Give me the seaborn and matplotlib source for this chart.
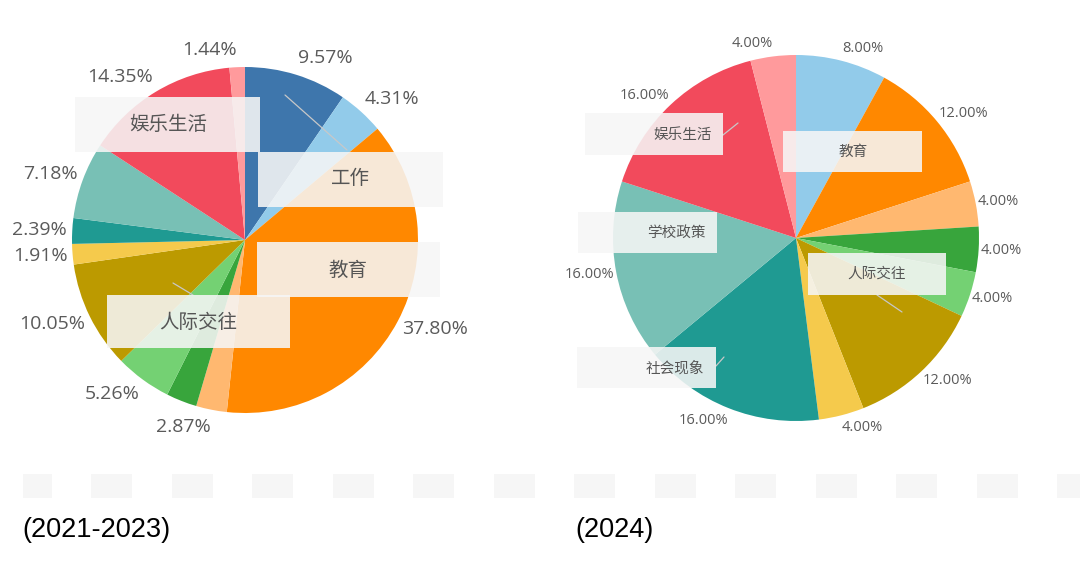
import numpy as np
import matplotlib
matplotlib.use("Agg")
import matplotlib.pyplot as plt
import seaborn as sns
from matplotlib.patches import Rectangle

# ---------------- data ----------------
left_values = [9.57, 4.31, 37.80, 2.87, 2.87, 5.26, 10.05, 1.91, 2.39, 7.18, 14.35, 1.44]
left_colors = ["#3E76AC", "#92CBEA", "#FF8800", "#FFB870", "#38A53C", "#74D173",
               "#BC9A00", "#F5CA4C", "#1F9A92", "#78C0B5", "#F24A5C", "#FF9A9C"]
left_show = [True, True, True, True, False, True, True, True, True, True, True, True]

right_values = [8.00, 12.00, 4.00, 4.00, 4.00, 12.00, 4.00, 16.00, 16.00, 16.00, 4.00]
right_colors = ["#92CBEA", "#FF8800", "#FFB870", "#38A53C", "#74D173",
                "#BC9A00", "#F5CA4C", "#1F9A92", "#78C0B5", "#F24A5C", "#FF9A9C"]

left_tags = ["娱乐生活", "工作", "教育", "人际交往"]
right_tags = ["娱乐生活", "教育", "学校政策", "人际交往", "社会现象"]
captions = ["(2021-2023)", "(2024)"]

# ---------------- style ----------------
sns.set_theme(style="white")
plt.rcParams["font.family"] = ["Noto Sans CJK SC", "DejaVu Sans"]

W, H = 1080, 567
fig = plt.figure(figsize=(W / 100, H / 100), dpi=100)
ax = fig.add_axes([0, 0, 1, 1])


def Y(py):
    return H - py


def draw_pie(values, colors, cx, cy, r, fx, fy, fsize, show=None):
    pal = sns.color_palette(colors)
    ax.pie(values, colors=pal, startangle=90, counterclock=False,
           center=(cx, Y(cy)), radius=r, wedgeprops=dict(linewidth=0))
    total = float(sum(values))
    cum = np.cumsum([0] + list(values))
    for i, v in enumerate(values):
        if show is not None and not show[i]:
            continue
        frac = (cum[i] + v / 2) / total
        th = np.deg2rad(90 - 360 * frac)
        x = cx + fx * r * np.cos(th)
        y = Y(cy) + fy * r * np.sin(th)
        ha = "left" if np.cos(th) >= 0 else "right"
        ax.text(x, y, f"{v:.2f}%", ha=ha, va="center", fontsize=fsize,
                color="#5a5a5a", family=["Open Sans", "DejaVu Sans"])


draw_pie(left_values, left_colors, 245, 240, 173, 1.03, 1.1, 14, left_show)
draw_pie(right_values, right_colors, 796, 238, 183, 1.01, 1.07, 10.5)


def tag(text, x0, x1, y0, y1, tx, ty, fs):
    ax.add_patch(Rectangle((x0, Y(y1)), x1 - x0, y1 - y0, facecolor="#f6f6f6",
                           edgecolor="none", alpha=0.88, zorder=5))
    ax.text(tx, Y(ty), text, ha="center", va="center", fontsize=fs,
            color="#555555", zorder=6)


def leader(x0, y0, x1, y1):
    ax.plot([x0, x1], [Y(y0), Y(y1)], color="#c8c8c8", lw=0.9, zorder=4)


# left leader lines
leader(285, 95, 347, 150)
leader(173, 283, 193, 295)
# left tags
tag(left_tags[0], 75, 260, 97, 152, 168, 124, 14)
tag(left_tags[1], 258, 443, 152, 207, 350, 179, 14)
tag(left_tags[2], 257, 440, 242, 297, 348, 270, 14)
tag(left_tags[3], 107, 290, 295, 348, 198, 323, 14)

# right leader lines
leader(723, 135, 738, 123)
leader(877, 295, 902, 312)
leader(716, 366, 724, 357)
# right tags
tag(right_tags[0], 585, 723, 113, 155, 683, 135, 10.5)
tag(right_tags[1], 783, 922, 131, 172, 853, 152, 10.5)
tag(right_tags[2], 578, 717, 212, 253, 676, 233, 10.5)
tag(right_tags[3], 808, 946, 253, 295, 877, 274, 10.5)
tag(right_tags[4], 577, 716, 347, 388, 675, 368, 10.5)

# faint placeholder blocks at the bottom
block_x = [23] + [91 + 80.5 * k for k in range(13)]
for i, bx in enumerate(block_x):
    w = 29 if i == 0 else 41
    ax.add_patch(Rectangle((bx, Y(498)), w, 24, facecolor="#f6f6f6",
                           edgecolor="none", zorder=1))

# captions
ax.text(22, Y(530), captions[0], ha="left", va="center", fontsize=19.5,
        color="black", family=["Liberation Sans", "DejaVu Sans"])
ax.text(575, Y(530), captions[1], ha="left", va="center", fontsize=19.5,
        color="black", family=["Liberation Sans", "DejaVu Sans"])

ax.set_xlim(0, W)
ax.set_ylim(0, H)
ax.set_aspect("equal")
ax.axis("off")

fig.savefig("out.png", dpi=100, facecolor="white")
